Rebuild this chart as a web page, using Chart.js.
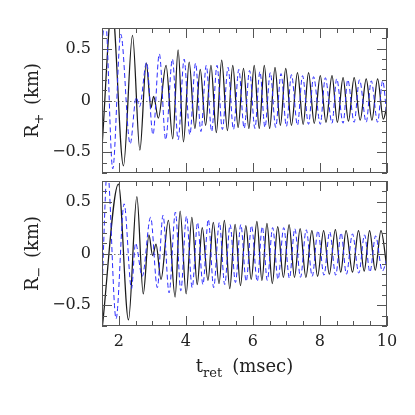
<!DOCTYPE html>
<html>
<head>
<meta charset="utf-8">
<script src="https://cdn.jsdelivr.net/npm/chart.js@4.4.0/dist/chart.umd.min.js"></script>
<style>
  html, body { margin: 0; padding: 0; background: #fff; }
  #wrap { position: relative; width: 415px; height: 415px; }
  canvas { position: absolute; left: 0; }
  #topPanel { top: 0; }
  #bottomPanel { top: 177px; }
</style>
</head>
<body>
<div id="wrap">
  <canvas id="topPanel" width="415" height="177"></canvas>
  <canvas id="bottomPanel" width="415" height="238"></canvas>
</div>
<script>
'use strict';

/* ── Data (extrema of each wave, t in msec, R in km) ── */

// R+ panel, solid black
const tPlusSolid = [1.50, 1.80, 2.14, 2.41, 2.63, 2.82, 2.96, 3.04, 3.18, 3.41, 3.61, 3.77, 3.93, 4.10,
  4.27, 4.43, 4.59, 4.75, 4.91, 5.07, 5.24, 5.40, 5.56, 5.72, 5.88, 6.04, 6.19, 6.34, 6.50, 6.66,
  6.82, 6.98, 7.15, 7.33, 7.50, 7.66, 7.83, 8.01, 8.18, 8.36, 8.52, 8.69, 8.85, 9.02, 9.20, 9.38,
  9.55, 9.72, 9.89, 10.0];
const rPlusSolid = [-0.45, 0.90, -0.63, 0.63, -0.48, 0.36, -0.07, 0.04, -0.17, 0.34, -0.37, 0.49, -0.40, 0.37,
  -0.27, 0.30, -0.24, 0.34, -0.31, 0.39, -0.29, 0.34, -0.26, 0.31, -0.27, 0.34, -0.27, 0.34, -0.27, 0.32,
  -0.24, 0.31, -0.24, 0.27, -0.23, 0.27, -0.22, 0.24, -0.21, 0.24, -0.21, 0.22, -0.20, 0.22, -0.19, 0.21,
  -0.19, 0.21, -0.18, -0.05];

// R+ panel, dashed blue
const tPlusDashed = [1.50, 1.60, 1.82, 2.06, 2.34, 2.52, 2.62, 2.83, 3.02, 3.21, 3.40, 3.60, 3.77, 3.95,
  4.12, 4.29, 4.45, 4.61, 4.77, 4.93, 5.09, 5.26, 5.42, 5.58, 5.74, 5.90, 6.06, 6.21, 6.36, 6.52,
  6.68, 6.84, 7.00, 7.15, 7.33, 7.48, 7.66, 7.81, 8.01, 8.16, 8.36, 8.50, 8.69, 8.83, 9.02, 9.18,
  9.38, 9.53, 9.72, 9.87, 10.0];
const rPlusDashed = [0.55, 0.80, -0.66, 0.64, -0.42, 0.03, -0.06, 0.37, -0.33, 0.45, -0.38, 0.40, -0.38, 0.40,
  -0.33, 0.36, -0.30, 0.34, -0.30, 0.34, -0.28, 0.32, -0.28, 0.30, -0.27, 0.29, -0.27, 0.28, -0.26, 0.27,
  -0.26, 0.26, -0.25, 0.25, -0.24, 0.24, -0.23, 0.23, -0.23, 0.22, -0.22, 0.21, -0.22, 0.20, -0.21, 0.20,
  -0.21, 0.19, -0.21, 0.19, -0.17];

// R- panel, solid black
const tMinusSolid = [1.50, 1.99, 2.29, 2.54, 2.73, 2.90, 3.01, 3.11, 3.26, 3.48, 3.68, 3.83, 4.01, 4.18,
  4.34, 4.49, 4.66, 4.82, 4.99, 5.15, 5.31, 5.47, 5.63, 5.79, 5.95, 6.12, 6.27, 6.42, 6.58, 6.74,
  6.91, 7.08, 7.24, 7.41, 7.58, 7.76, 7.93, 8.11, 8.28, 8.46, 8.62, 8.78, 8.97, 9.15, 9.32, 9.48,
  9.65, 9.82, 10.0];
const rMinusSolid = [-0.74, 0.67, -0.64, 0.55, -0.39, 0.18, -0.02, 0.09, -0.25, 0.32, -0.42, 0.41, -0.39, 0.35,
  -0.30, 0.25, -0.26, 0.30, -0.29, 0.32, -0.34, 0.28, -0.31, 0.27, -0.25, 0.31, -0.26, 0.29, -0.29, 0.26,
  -0.23, 0.28, -0.23, 0.24, -0.23, 0.22, -0.22, 0.22, -0.20, 0.23, -0.18, 0.22, -0.18, 0.22, -0.17, 0.22,
  -0.16, 0.22, -0.15];

// R- panel, dashed blue
const tMinusDashed = [1.50, 1.66, 1.92, 2.16, 2.38, 2.50, 2.70, 2.95, 3.15, 3.32, 3.50, 3.69, 3.85, 4.02,
  4.19, 4.35, 4.51, 4.67, 4.83, 5.00, 5.16, 5.32, 5.48, 5.64, 5.80, 5.96, 6.13, 6.28, 6.43, 6.59,
  6.75, 6.92, 7.09, 7.25, 7.42, 7.59, 7.77, 7.94, 8.12, 8.29, 8.47, 8.63, 8.79, 8.97, 9.16, 9.33,
  9.49, 9.66, 9.86, 10.0];
const rMinusDashed = [-0.35, 0.82, -0.63, 0.48, -0.34, 0.10, -0.22, 0.35, -0.33, 0.37, -0.38, 0.40, -0.36, 0.36,
  -0.33, 0.30, -0.30, 0.33, -0.33, 0.30, -0.30, 0.28, -0.28, 0.28, -0.27, 0.27, -0.27, 0.26, -0.26, 0.25,
  -0.25, 0.25, -0.24, 0.24, -0.23, 0.23, -0.22, 0.22, -0.21, 0.21, -0.21, 0.20, -0.20, 0.19, -0.19, 0.18,
  -0.18, 0.17, -0.17, -0.05];

// Axes
const xMin = 1.5, xMax = 10;
const yMin = -0.7, yMax = 0.7;
const xTickValues = [2, 4, 6, 8, 10];
const yTickValues = [-0.5, 0, 0.5];

/* ── Styling ── */
const solidColor  = '#1a1a1a';
const dashedColor = '#2b2bff';
const frameColor  = '#555555';
const fontFamily  = "'DejaVu Serif', 'Liberation Serif', serif";

const zip = (ts, rs) => ts.map((t, i) => ({ x: t, y: rs[i] }));

// Chart.js reserves room for label overhang; the frame here is fixed, so drop it
function noOverhang(axis) {
    axis.paddingTop = 0; axis.paddingBottom = 0;
    axis.paddingLeft = 0; axis.paddingRight = 0;
}

// Frame, inward ticks on all sides, dotted zero line, and axis titles with subscripts
const framePlugin = {
    id: 'frame',
    beforeDatasetsDraw(chart) {
        const ctx = chart.ctx, a = chart.chartArea, y0 = chart.scales.y.getPixelForValue(0);
        ctx.save();
        ctx.strokeStyle = '#777';
        ctx.lineWidth = 1;
        ctx.setLineDash([1.5, 2.5]);
        ctx.beginPath();
        ctx.moveTo(a.left, Math.round(y0) + 0.5);
        ctx.lineTo(a.right, Math.round(y0) + 0.5);
        ctx.stroke();
        ctx.restore();
    },
    afterDatasetsDraw(chart, args, opts) {
        const ctx = chart.ctx, a = chart.chartArea;
        const xs = chart.scales.x, ys = chart.scales.y;
        ctx.save();
        ctx.strokeStyle = frameColor;
        ctx.lineWidth = 1;
        ctx.strokeRect(a.left + 0.5, a.top + 0.5, a.right - a.left - 1, a.bottom - a.top - 1);

        ctx.beginPath();
        for (let k = 0; k <= 17; k++) {
            const v = xMin + k * 0.5;
            const len = (Math.abs(v % 2) < 1e-6) ? 10 : 5;
            const px = Math.round(xs.getPixelForValue(v)) + 0.5;
            ctx.moveTo(px, a.bottom); ctx.lineTo(px, a.bottom - len);
            ctx.moveTo(px, a.top);    ctx.lineTo(px, a.top + len);
        }
        for (let k = -7; k <= 7; k++) {
            const v = k / 10;
            const len = (k % 5 === 0) ? 10 : 5;
            const py = Math.round(ys.getPixelForValue(v)) + 0.5;
            ctx.moveTo(a.left, py);  ctx.lineTo(a.left + len, py);
            ctx.moveTo(a.right, py); ctx.lineTo(a.right - len, py);
        }
        ctx.stroke();

        // y title, rotated, with subscript
        ctx.fillStyle = '#222';
        ctx.textBaseline = 'alphabetic';
        const big = '18px ' + fontFamily, small = '13px ' + fontFamily;
        ctx.font = big;  const wR = ctx.measureText('R').width;
        ctx.font = small; const wS = ctx.measureText(opts.ySub).width;
        ctx.font = big;  const wK = ctx.measureText(' (km)').width;
        const total = wR + wS + 3 + wK;
        ctx.translate(opts.yTitleX, (a.top + a.bottom) / 2);
        ctx.rotate(-Math.PI / 2);
        let cx = -total / 2;
        ctx.textAlign = 'left';
        ctx.font = big;   ctx.fillText('R', cx, 6); cx += wR;
        ctx.font = small; ctx.fillText(opts.ySub, cx, 11); cx += wS + 3;
        ctx.font = big;   ctx.fillText(' (km)', cx, 6);
        ctx.restore();

        if (opts.xTitle) {
            ctx.save();
            ctx.fillStyle = '#222';
            ctx.textBaseline = 'alphabetic';
            ctx.textAlign = 'left';
            ctx.font = big;   const wt = ctx.measureText('t').width;
            ctx.font = small; const wr = ctx.measureText('ret').width;
            ctx.font = big;   const wm = ctx.measureText('(msec)').width;
            const gap = 10;
            let sx = (a.left + a.right) / 2 - (wt + wr + gap + wm) / 2;
            const base = opts.xTitleY;
            ctx.font = big;   ctx.fillText('t', sx, base); sx += wt;
            ctx.font = small; ctx.fillText('ret', sx, base + 5); sx += wr + gap;
            ctx.font = big;   ctx.fillText('(msec)', sx, base);
            ctx.restore();
        }
    }
};

function makePanel(canvasId, solidPts, dashedPts, opts) {
    const ctx = document.getElementById(canvasId);
    return new Chart(ctx, {
        type: 'line',
        data: {
            datasets: [{
                label: 'dashed',
                data: dashedPts,
                borderColor: dashedColor,
                borderWidth: 1,
                borderDash: [5, 3],
                pointRadius: 0,
                cubicInterpolationMode: 'monotone',
                fill: false
            }, {
                label: 'solid',
                data: solidPts,
                borderColor: solidColor,
                borderWidth: 1.25,
                pointRadius: 0,
                cubicInterpolationMode: 'monotone',
                fill: false
            }]
        },
        options: {
            responsive: false,
            animation: false,
            events: [],
            layout: { padding: opts.padding },
            plugins: {
                legend: { display: false },
                tooltip: { enabled: false },
                frame: opts.frame
            },
            scales: {
                x: {
                    type: 'linear',
                    min: xMin, max: xMax,
                    display: opts.showX,
                    grid: { display: false, drawTicks: false },
                    border: { display: false },
                    afterBuildTicks: (axis) => { axis.ticks = xTickValues.map(v => ({ value: v })); },
                    afterFit: (axis) => { axis.height = opts.xHeight; noOverhang(axis); },
                    ticks: {
                        color: '#222', padding: 6, maxRotation: 0,
                        font: { family: fontFamily, size: 16 },
                        callback: (v) => String(v)
                    }
                },
                y: {
                    type: 'linear',
                    min: yMin, max: yMax,
                    grid: { display: false, drawTicks: false },
                    border: { display: false },
                    afterBuildTicks: (axis) => { axis.ticks = yTickValues.map(v => ({ value: v })); },
                    afterFit: (axis) => { axis.width = 102; noOverhang(axis); },
                    ticks: {
                        color: '#222', padding: 11,
                        font: { family: fontFamily, size: 16 },
                        callback: (v) => v === 0 ? '0' : String(v).replace('-', '\u2212')
                    }
                }
            }
        },
        plugins: [framePlugin]
    });
}

makePanel('topPanel', zip(tPlusSolid, rPlusSolid), zip(tPlusDashed, rPlusDashed), {
    padding: { left: 0, right: 28, top: 28, bottom: 4 },
    showX: false,
    xHeight: 0,
    frame: { ySub: '+', yTitleX: 32, xTitle: false }
});

makePanel('bottomPanel', zip(tMinusSolid, rMinusSolid), zip(tMinusDashed, rMinusDashed), {
    padding: { left: 0, right: 28, top: 4, bottom: 0 },
    showX: true,
    xHeight: 89,
    frame: { ySub: '\u2212', yTitleX: 32, xTitle: true, xTitleY: 195 }
});
</script>
</body>
</html>
